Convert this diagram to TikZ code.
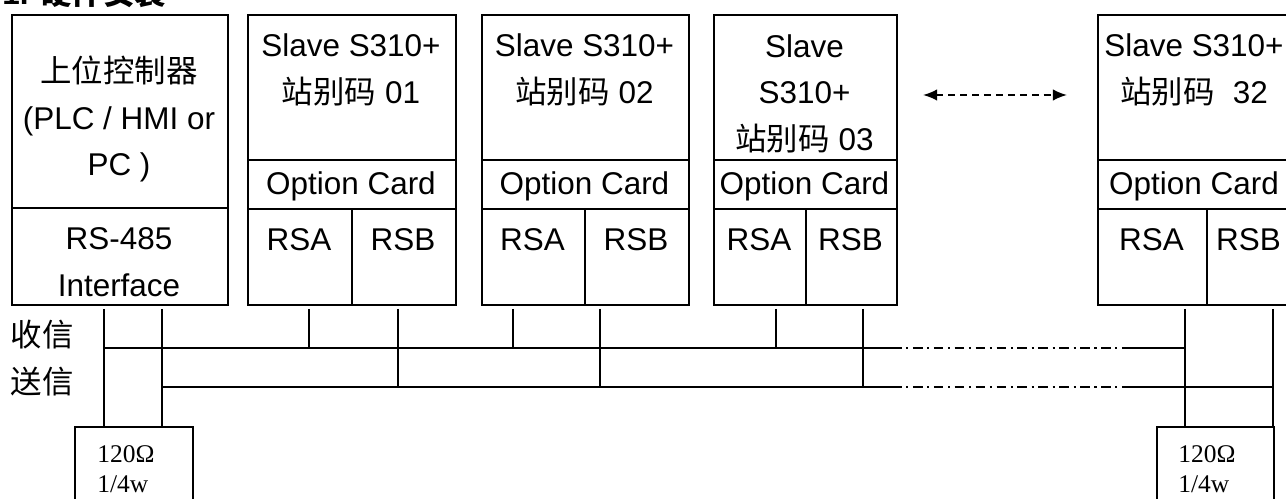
\documentclass[tikz,border=0pt]{standalone}
\usepackage{fontspec}
\setmainfont{Liberation Sans}
\newfontfamily\cjk{Noto Sans CJK SC}
\newfontfamily\resfont{Liberation Serif}
\usetikzlibrary{arrows.meta,positioning}

\begin{document}
\begin{tikzpicture}[
  x=0.02cm, y=-0.02cm,
  font=\fontsize{17.9}{26.5}\selectfont,
  every node/.style={inner sep=0pt},
  cell/.style={draw,line width=1.1pt,anchor=north west},
  txt/.style={align=center},
  bus/.style={line width=1pt},
  chain/.style={line width=1pt,dash pattern=on 5.5pt off 2.6pt on 1.2pt off 2.6pt},
  more/.style={line width=1pt,dash pattern=on 4pt off 2.8pt,{Latex[length=8pt,width=6.5pt]}-{Latex[length=8pt,width=6.5pt]}},
  res/.style={draw,line width=1.1pt,anchor=north west,minimum height=1.8cm},
  restxt/.style={font=\resfont\fontsize{14.5}{17}\selectfont,align=left,anchor=north west}]

\useasboundingbox (0,0) rectangle (1286,499);

% title, cut by the top edge
\node[anchor=base west,font=\bfseries\fontsize{17.9}{20}\selectfont] (title) at (2,4.5) {1. {\cjk 硬件安装}};

% host controller
\node[cell,minimum width=4.32cm,minimum height=3.86cm] (host) at (11,14) {};
\node[cell,minimum width=4.32cm,minimum height=1.94cm] (hostif) at (11,207) {};
\node[txt] (hostname) at (119,119) {{\cjk 上位控制器}\\(PLC / HMI or\\PC )};
\node[txt] (hosttype) at (119,262) {RS-485\\Interface};

% slaves
\foreach \n/\l/\r/\s/\ty/\lbl in {
    s1/247/455/351/70/{Slave S310+\\{\cjk 站别码} 01},
    s2/481/688/584/70/{Slave S310+\\{\cjk 站别码} 02},
    s3/713/896/805/93.5/{Slave\\S310+\\{\cjk 站别码} 03},
    s32/1097/1291/1206/70/{Slave S310+\\{\cjk 站别码}\hspace{0.3em} 32}}{
  \node[cell,minimum width={(\r-\l)*0.02cm},minimum height=2.9cm] (\n) at (\l,14) {};
  \node[cell,minimum width={(\r-\l)*0.02cm},minimum height=0.98cm] (\n opt) at (\l,159) {};
  \node[cell,minimum width={(\s-\l)*0.02cm},minimum height=1.92cm] (\n a) at (\l,208) {};
  \node[cell,minimum width={(\r-\s)*0.02cm},minimum height=1.92cm] (\n b) at (\s,208) {};
  \node[txt] (\n name) at ({(\l+\r)/2},\ty) {\lbl};
  \node[txt] (\n card) at ({(\l+\r)/2},186) {Option Card};
  \node[txt] (\n atxt) at ({(\l+\s)/2},240) {RSA};
  \node[txt] (\n btxt) at ({(\s+\r)/2},240) {RSB};
}

% more stations
\coordinate (more1) at (923,95);
\coordinate (more2) at (1067,95);
\draw[more] (more1) -- (more2);

% terminating resistors
\node[res,minimum width=2.36cm] (r1) at (74,426) {};
\node[res,minimum width=2.34cm] (r2) at (1156,426) {};
\node[restxt] (r1txt) at (97,445) {120Ω\\1/4w};
\node[restxt] (r2txt) at (1178,445) {120Ω\\1/4w};

% bus lines
\node (rxlbl) at (42,335) {\cjk 收信};
\node (txlbl) at (42,382) {\cjk 送信};
\coordinate (rxL) at (104,348);
\coordinate (rxgap1) at (892,348);
\coordinate (rxgap2) at (1127,348);
\coordinate (rxR) at (1185,348);
\coordinate (txL) at (162,387);
\coordinate (txgap1) at (892,387);
\coordinate (txgap2) at (1127,387);
\coordinate (txR) at (1273,387);
\draw[bus] (rxL) -- (rxgap1);
\draw[chain] (rxgap1) -- (rxgap2);
\draw[bus] (rxgap2) -- (rxR);
\draw[bus] (txL) -- (txgap1);
\draw[chain] (txgap1) -- (txgap2);
\draw[bus] (txgap2) -- (txR);

% drops
\foreach \t/\x in {hosta/104,hostb/162,s1a/309,s1b/398,s2a/513,s2b/600,s3a/776,s3b/863,s32a/1185,s32b/1273}
  \coordinate (\t) at (\x,309);
\draw[bus] (hosta) -- (hosta |- r1.north);
\draw[bus] (hostb) -- (hostb |- r1.north);
\foreach \n in {s1,s2,s3}{
  \draw[bus] (\n a) -- (\n a |- rxL);
  \draw[bus] (\n b) -- (\n b |- txL);
}
\draw[bus] (s32a) -- (s32a |- r2.north);
\draw[bus] (s32b) -- (s32b |- r2.north);
\end{tikzpicture}
\end{document}
